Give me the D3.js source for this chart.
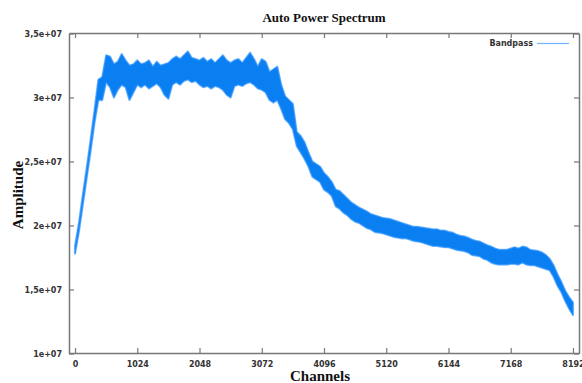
<!DOCTYPE html>
<html>
<head>
<meta charset="utf-8">
<script src="https://cdn.jsdelivr.net/npm/d3@7/dist/d3.min.js"></script>
<style>
  body { margin: 0; background: #fff; }
  .tick-label { font-family: "DejaVu Sans", sans-serif; font-size: 8px; font-weight: bold; fill: #333; }
  .big-label { font-family: "Liberation Serif", serif; font-weight: bold; fill: #111; }
</style>
</head>
<body>
<svg id="chart"></svg>
<script>
// channel grid every 64 channels, amplitudes in units of 1e6
const channels = d3.range(0, 8193, 64);

const upper = [18.4, 20.2, 22.4, 24.5, 26.7, 29.0, 31.4, 31.6, 33.3, 33.2, 32.6, 32.8, 33.4, 32.9, 32.5, 32.6,
  32.9, 32.6, 32.7, 32.9, 32.4, 32.8, 32.5, 32.6, 32.7, 33.0, 33.2, 33.0, 33.3, 33.6, 33.1, 33.0,
  32.9, 33.1, 32.8, 33.0, 32.7, 33.0, 33.3, 32.9, 32.7, 32.9, 33.0, 32.7, 33.1, 33.5, 33.0, 32.4,
  33.0, 32.8, 32.0, 32.2, 32.4, 31.0, 30.1, 29.8, 29.5, 27.3, 27.0, 26.5, 25.7, 25.0, 24.8, 24.6,
  24.1, 23.8, 23.4, 22.8, 22.7, 22.4, 22.1, 21.8, 21.6, 21.4, 21.25, 21.1, 20.9, 20.8, 20.7, 20.6,
  20.55, 20.5, 20.4, 20.3, 20.2, 20.1, 20.0, 19.9, 19.9, 19.85, 19.8, 19.75, 19.7, 19.7, 19.6, 19.6,
  19.5, 19.45, 19.3, 19.2, 19.15, 19.05, 18.9, 18.8, 18.75, 18.6, 18.45, 18.35, 18.2, 18.1, 18.1, 18.1,
  18.2, 18.3, 18.2, 18.35, 18.3, 18.1, 18.05, 18.0, 17.9, 17.7, 17.4, 16.9, 16.2, 15.6, 14.9, 14.4,
  14.0];

const lower = [17.8, 19.5, 21.6, 23.7, 25.8, 28.0, 29.8, 29.8, 31.2, 30.8, 30.0, 30.6, 31.0, 30.8, 29.8, 30.4,
  31.0, 30.8, 31.0, 30.7, 30.9, 31.1, 30.8, 30.2, 29.9, 31.0, 31.2, 31.0, 31.3, 31.4, 31.2, 31.3,
  31.0, 30.8, 30.9, 30.7, 30.9, 30.8, 30.6, 30.2, 30.0, 30.9, 31.0, 30.9, 31.1, 31.2, 31.0, 30.7,
  30.6, 30.4, 29.8, 29.6, 29.8, 29.1, 28.3, 28.0, 27.5, 26.2, 25.7, 25.2, 24.6, 23.8, 23.6, 23.4,
  22.8, 22.6, 22.3, 21.5, 21.3, 21.0, 20.8, 20.5, 20.3, 20.2, 20.0, 19.8, 19.7, 19.5, 19.45, 19.4,
  19.3, 19.2, 19.1, 19.05, 19.0, 19.0, 18.9, 18.8, 18.75, 18.7, 18.6, 18.5, 18.4, 18.4, 18.35, 18.3,
  18.3, 18.2, 18.1, 18.05, 18.0, 17.9, 17.7, 17.65, 17.6, 17.4, 17.3, 17.1, 17.0, 16.95, 16.95, 16.95,
  17.0, 17.0, 16.95, 17.1, 16.95, 16.9, 16.9, 16.8, 16.7, 16.6, 16.5, 16.0, 15.3, 14.8, 14.1, 13.5,
  13.0];

const xTicks = [0, 1024, 2048, 3072, 4096, 5120, 6144, 7168, 8192];
const yTicks = [1e7, 1.5e7, 2e7, 2.5e7, 3e7, 3.5e7];
const yTickLabels = ['1e+07', '1,5e+07', '2e+07', '2,5e+07', '3e+07', '3,5e+07'];

const svgWidth = 582;
const svgHeight = 383;
const plotLeft = 69, plotRight = 579, plotTop = 33, plotBottom = 353;

let svg = d3.select('#chart')
  .attr('width', svgWidth)
  .attr('height', svgHeight);

let xScale = d3.scaleLinear()
  .domain([-99, 8291])
  .range([plotLeft, plotRight]);

let yScale = d3.scaleLinear()
  .domain([1e7, 3.5e7])
  .range([plotBottom + 0.5, plotTop + 0.5]);

let data = channels.map((c, i) => ({ c: c, hi: upper[i] * 1e6, lo: lower[i] * 1e6 }));

//  CURVE

let band = d3.area()
  .x(d => xScale(d.c))
  .y0(d => yScale(d.lo))
  .y1(d => yScale(d.hi));

// light fringe first, solid band on top
svg.append('path')
  .datum(data)
  .attr('d', band)
  .attr('fill', 'none')
  .attr('stroke', '#8cc6ff')
  .attr('stroke-width', 2.2)
  .attr('stroke-linejoin', 'round');

svg.append('path')
  .datum(data)
  .attr('d', band)
  .attr('fill', '#0a7ff2')
  .attr('stroke', '#2b8ffb')
  .attr('stroke-width', 0.8)
  .attr('stroke-linejoin', 'round');

//  AXES (inward ticks, mirrored)

let axisColor = '#777';

svg.append('g')
  .attr('transform', `translate(0, ${plotBottom})`)
  .call(d3.axisBottom(xScale).tickValues(xTicks).tickSizeInner(-5).tickSizeOuter(0).tickPadding(8).tickFormat(d => d));

svg.append('g')
  .attr('transform', `translate(0, ${plotTop})`)
  .call(d3.axisTop(xScale).tickValues(xTicks).tickSizeInner(-5).tickSizeOuter(0).tickFormat(''));

svg.append('g')
  .attr('transform', `translate(${plotLeft}, 0)`)
  .call(d3.axisLeft(yScale).tickValues(yTicks).tickSizeInner(-5).tickSizeOuter(0).tickPadding(7)
    .tickFormat((d, i) => yTickLabels[i]));

svg.append('g')
  .attr('transform', `translate(${plotRight}, 0)`)
  .call(d3.axisRight(yScale).tickValues(yTicks).tickSizeInner(-5).tickSizeOuter(0).tickFormat(''));

svg.selectAll('.domain').attr('stroke', axisColor).attr('stroke-width', 1.5);
svg.selectAll('.tick line').attr('stroke', axisColor).attr('stroke-width', 1.2);
svg.selectAll('.tick text').attr('class', 'tick-label');
svg.selectAll('g').attr('font-family', null).attr('font-size', null);

//  TITLES

svg.append('text')
  .attr('class', 'big-label')
  .attr('x', 324)
  .attr('y', 22)
  .attr('text-anchor', 'middle')
  .attr('font-size', 13)
  .text('Auto Power Spectrum');

svg.append('text')
  .attr('class', 'big-label')
  .attr('x', 320)
  .attr('y', 381)
  .attr('text-anchor', 'middle')
  .attr('font-size', 15)
  .text('Channels');

svg.append('text')
  .attr('class', 'big-label')
  .attr('transform', 'translate(23, 195) rotate(-90)')
  .attr('text-anchor', 'middle')
  .attr('font-size', 15)
  .text('Amplitude');

//  LEGEND

svg.append('text')
  .attr('class', 'tick-label')
  .attr('x', 533)
  .attr('y', 46)
  .attr('text-anchor', 'end')
  .text('Bandpass');

svg.append('line')
  .attr('x1', 537)
  .attr('x2', 569)
  .attr('y1', 43.5)
  .attr('y2', 43.5)
  .attr('stroke', '#6fb4ff')
  .attr('stroke-width', 1.2);
</script>
</body>
</html>
